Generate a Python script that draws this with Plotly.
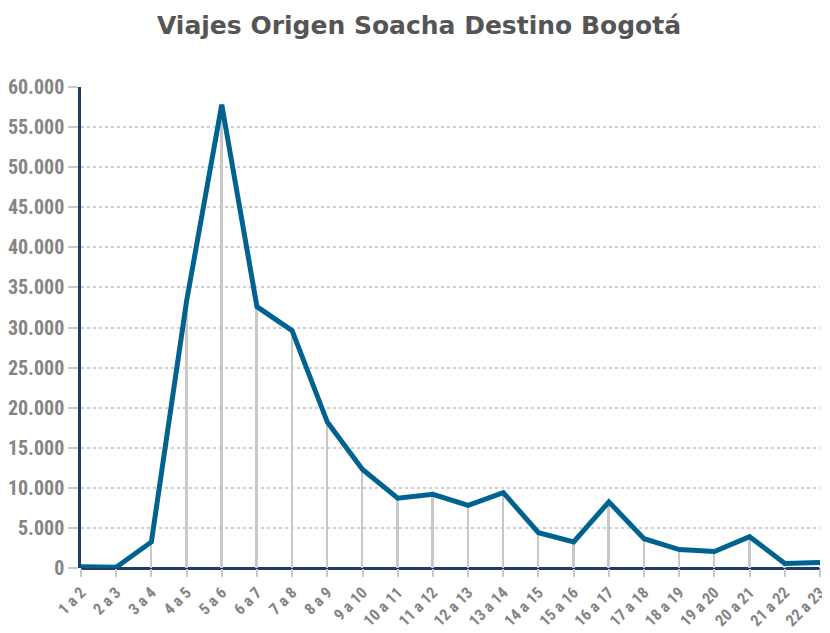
import plotly.graph_objects as go

categorias = ["1 a 2", "2 a 3", "3 a 4", "4 a 5", "5 a 6", "6 a 7", "7 a 8", "8 a 9",
              "9 a 10", "10 a 11", "11 a 12", "12 a 13", "13 a 14", "14 a 15",
              "15 a 16", "16 a 17", "17 a 18", "18 a 19", "19 a 20", "20 a 21",
              "21 a 22", "22 a 23"]
viajes = [150, 100, 3250, 33300, 57800, 32600, 29600, 18200, 12300, 8700, 9200,
          7800, 9400, 4400, 3250, 8250, 3650, 2300, 2050, 3900, 550, 700]
y_ticks = [0, 5000, 10000, 15000, 20000, 25000, 30000, 35000, 40000, 45000,
           50000, 55000, 60000]

TICK_FONT = "Roboto Condensed, Liberation Sans Narrow, Roboto"

fig = go.Figure()
fig.add_trace(go.Bar(x=categorias, y=viajes, width=0.055,
                     marker=dict(color="#c8c8c8", line=dict(width=0)),
                     hoverinfo="skip", showlegend=False))
fig.add_trace(go.Scatter(x=categorias, y=viajes, mode="lines",
                         line=dict(color="#00628f", width=5),
                         cliponaxis=False, showlegend=False))

# page body has an 8px margin, so the figure is offset by 8px
fig.update_layout(
    width=822, height=625,
    paper_bgcolor="white", plot_bgcolor="white",
    separators=",.",
    margin=dict(l=73, r=10, t=79, b=65),
    title=dict(text="<b>Viajes Origen Soacha Destino Bogotá</b>",
               x=0.5, xanchor="center", y=0.973, yanchor="middle",
               font=dict(family="DejaVu Sans", size=25, color="#555555")),
    font=dict(family="Roboto", color="#7a7a7a"),
    xaxis=dict(type="category", range=[0, 21], showgrid=False,
               ticks="outside", ticklen=8, tickcolor="#c8c8c8", tickwidth=2,
               tickangle=-45, tickfont=dict(family=TICK_FONT, size=16, color="#858585", weight=700),
               showline=False, zeroline=False, automargin=False),
    yaxis=dict(range=[0, 60000], tickvals=y_ticks, tickformat=",d",
               showgrid=True, gridcolor="#cfcfcf", griddash="dot", gridwidth=1.5,
               ticks="outside", ticklen=10, tickcolor="#c8c8c8", tickwidth=2,
               tickfont=dict(family=TICK_FONT, size=20, color="#858585", weight=700),
               showline=True, linecolor="#1f3d66", linewidth=2.5,
               zeroline=True, zerolinecolor="#1f3d66", zerolinewidth=2.5,
               automargin=False),
    bargap=0,
)
fig.write_html("out.html")
